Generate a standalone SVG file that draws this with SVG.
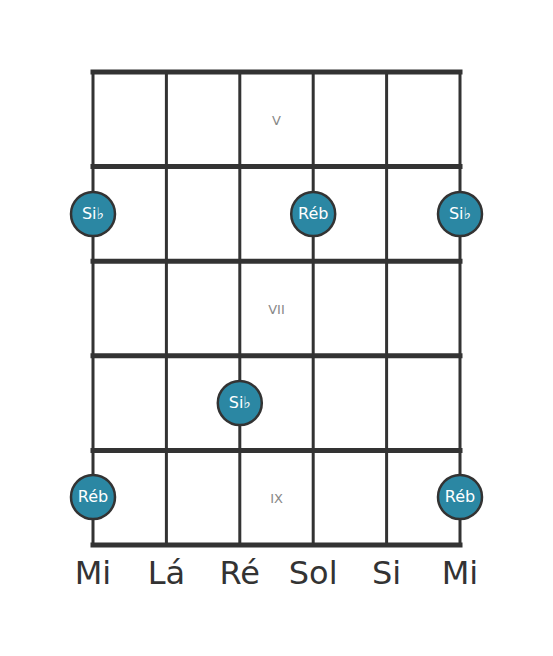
<svg xmlns="http://www.w3.org/2000/svg" width="553" height="656" viewBox="0 0 553 656">
<style>
.fret{stroke:#333;stroke-width:5;stroke-linecap:square}
.str{stroke:#333;stroke-width:3}
.dot{fill:#2b87a3;stroke:#333;stroke-width:2.5}
.nl{font-family:"DejaVu Sans",sans-serif;font-size:16px;fill:#fff;text-anchor:middle;dominant-baseline:central}
.fl{font-family:"DejaVu Sans",sans-serif;font-size:13px;fill:#888;text-anchor:middle;dominant-baseline:central}
.sl{font-family:"DejaVu Sans",sans-serif;font-size:32px;fill:#333;text-anchor:middle}
</style>
<rect width="553" height="656" fill="#fff"/>
<g id="connectors">
<line class="str" x1="93" y1="72" x2="93" y2="545"/>
<line class="str" x1="166.4" y1="72" x2="166.4" y2="545"/>
<line class="str" x1="239.8" y1="72" x2="239.8" y2="545"/>
<line class="str" x1="313.2" y1="72" x2="313.2" y2="545"/>
<line class="str" x1="386.6" y1="72" x2="386.6" y2="545"/>
<line class="str" x1="460" y1="72" x2="460" y2="545"/>
<line class="fret" x1="93" y1="72" x2="460" y2="72"/>
<line class="fret" x1="93" y1="166.6" x2="460" y2="166.6"/>
<line class="fret" x1="93" y1="261.2" x2="460" y2="261.2"/>
<line class="fret" x1="93" y1="355.8" x2="460" y2="355.8"/>
<line class="fret" x1="93" y1="450.4" x2="460" y2="450.4"/>
<line class="fret" x1="93" y1="545" x2="460" y2="545"/>
</g>
<g id="fret-labels">
<text class="fl" x="276.5" y="120">V</text>
<text class="fl" x="276.5" y="309">VII</text>
<text class="fl" x="276.5" y="498">IX</text>
</g>
<g id="n1"><circle class="dot" cx="93" cy="214" r="22"/><text class="nl" x="93" y="213">Si♭</text></g>
<g id="n2"><circle class="dot" cx="313.2" cy="214" r="22"/><text class="nl" x="313.2" y="213">Réb</text></g>
<g id="n3"><circle class="dot" cx="460" cy="214" r="22"/><text class="nl" x="460" y="213">Si♭</text></g>
<g id="n4"><circle class="dot" cx="239.8" cy="403" r="22"/><text class="nl" x="239.8" y="402">Si♭</text></g>
<g id="n5"><circle class="dot" cx="93" cy="497" r="22"/><text class="nl" x="93" y="496">Réb</text></g>
<g id="n6"><circle class="dot" cx="460" cy="497" r="22"/><text class="nl" x="460" y="496">Réb</text></g>
<g id="string-labels">
<text class="sl" x="93" y="584">Mi</text>
<text class="sl" x="166.4" y="584">Lá</text>
<text class="sl" x="239.8" y="584">Ré</text>
<text class="sl" x="313.2" y="584">Sol</text>
<text class="sl" x="386.6" y="584">Si</text>
<text class="sl" x="460" y="584">Mi</text>
</g>
</svg>
